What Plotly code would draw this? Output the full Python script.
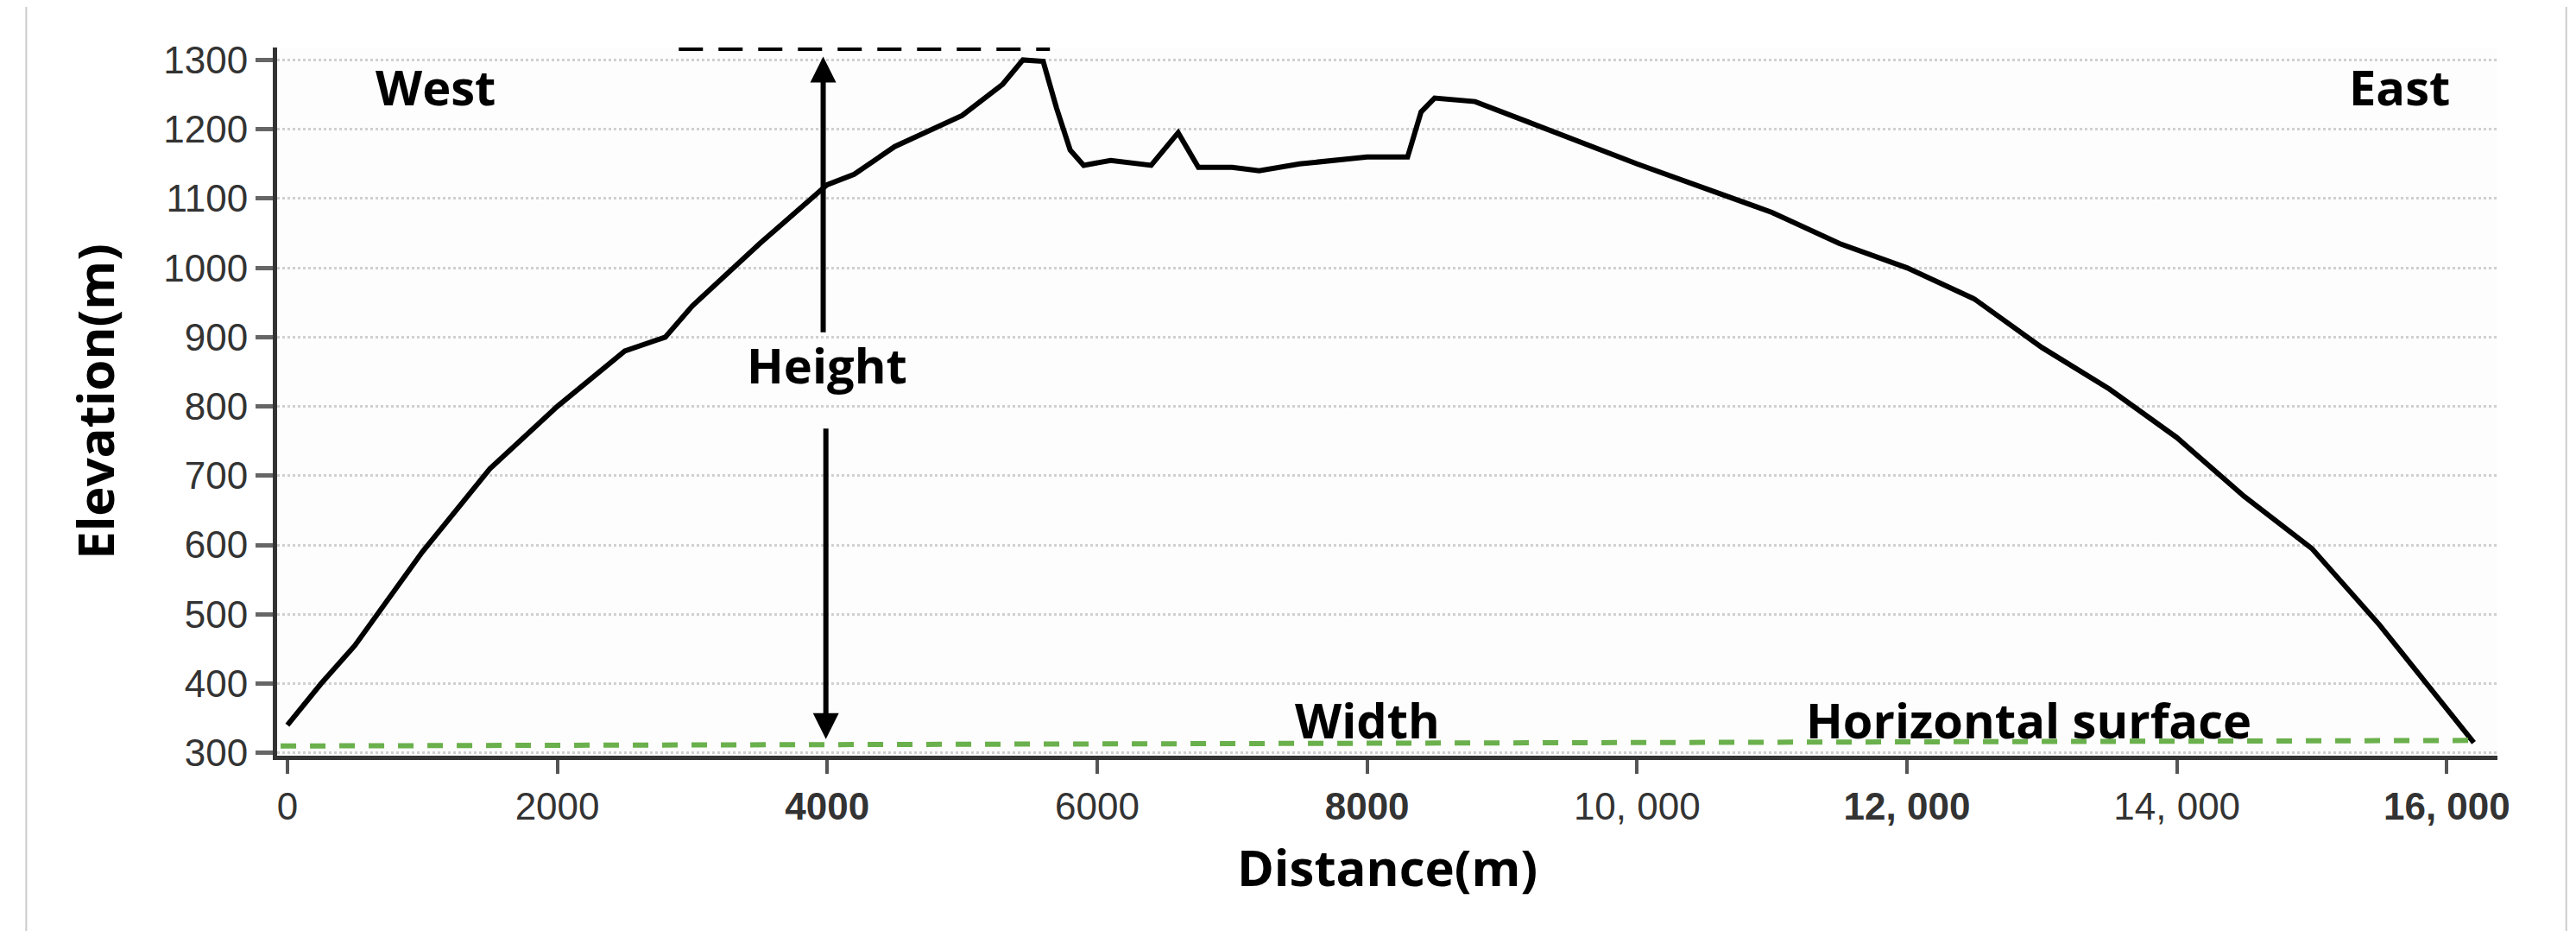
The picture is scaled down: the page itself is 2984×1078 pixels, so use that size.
import plotly.graph_objects as go

# elevation profile
distance = [0, 250, 500, 1000, 1500, 2000, 2500, 2800, 3000, 3500, 4000, 4200, 4500, 5000, 5300, 5450, 5600,
            5700, 5800, 5900, 6100, 6400, 6600, 6750, 7000, 7200, 7500, 8000, 8300, 8400, 8500, 8800,
            9200, 9600, 10000, 10500, 11000, 11500, 12000, 12500, 13000, 13500, 14000, 14500,
            15000, 15500, 16000, 16200]
elevation = [340, 400, 455, 590, 710, 800, 880, 900, 945, 1035, 1120, 1135, 1175, 1220, 1265, 1300, 1298,
             1230, 1170, 1148, 1155, 1148, 1195, 1145, 1145, 1140, 1150, 1160, 1160, 1225, 1245, 1240,
             1210, 1180, 1150, 1115, 1080, 1035, 1000, 955, 885, 825, 755, 670,
             595, 485, 365, 315]

surface_x = [-50, 16200]
surface_y = [310, 318]
top_x = [2900, 5650]
top_y = [1318, 1318]

tick_vals = [0, 2000, 4000, 6000, 8000, 10000, 12000, 14000, 16000]
tick_text = ["0", "2000", "<b>4000</b>", "6000", "<b>8000</b>", "10, 000", "<b>12, 000</b>",
             "14, 000", "<b>16, 000</b>"]

fig = go.Figure()
fig.add_trace(go.Scatter(x=distance, y=elevation, mode="lines", line=dict(color="black", width=6)))
fig.add_trace(go.Scatter(x=surface_x, y=surface_y, mode="lines",
                         line=dict(color="#6ab04c", width=6, dash="18px,16px")))
fig.add_trace(go.Scatter(x=top_x, y=top_y, mode="lines",
                         line=dict(color="black", width=8, dash="28px,18px"), cliponaxis=False))

# Height arrows
fig.add_annotation(x=3970, y=1305, ax=3970, ay=905, xref="x", yref="y", axref="x", ayref="y",
                   text="", showarrow=True, arrowhead=2, arrowsize=1, arrowwidth=6, arrowcolor="black")
fig.add_annotation(x=3990, y=320, ax=3990, ay=770, xref="x", yref="y", axref="x", ayref="y",
                   text="", showarrow=True, arrowhead=2, arrowsize=1, arrowwidth=6, arrowcolor="black")

labels = [(4000, 860, "Height"), (1100, 1262, "West"), (15650, 1262, "East"),
          (8000, 348, "Width"), (12900, 348, "Horizontal surface")]
for lx, ly, lt in labels:
    fig.add_annotation(x=lx, y=ly, text="<b>" + lt + "</b>", showarrow=False,
                       font=dict(size=56, color="black", family="Open Sans"))

fig.add_shape(type="rect", xref="paper", yref="paper", x0=-0.113, x1=1.031, y0=-0.252, y1=1.2,
              line=dict(color="#cccccc", width=2))

fig.update_layout(
    width=2984, height=1078, showlegend=False,
    margin=dict(l=313, r=99, t=47, b=211),
    paper_bgcolor="white", plot_bgcolor="#fdfdfd",
    font=dict(family="Liberation Sans", color="#222222"),
    xaxis=dict(range=[-76, 16375], tickvals=tick_vals, ticktext=tick_text,
               tickfont=dict(size=44, color="#333333"), ticks="outside", ticklen=16, tickwidth=4,
               tickcolor="#555555", showgrid=False, zeroline=False,
               showline=True, linecolor="#333333", linewidth=5,
               title=dict(text="<b>Distance(m)</b>", font=dict(size=58, color="black", family="Open Sans"),
                          standoff=30)),
    yaxis=dict(range=[296, 1318], tickvals=list(range(300, 1301, 100)),
               tickfont=dict(size=44, color="#333333"), ticks="outside", ticklen=20, tickwidth=5,
               tickcolor="#666666", showgrid=True, gridcolor="#d0d0d0", griddash="dot", gridwidth=3,
               zeroline=False, showline=True, linecolor="#333333", linewidth=5,
               title=dict(text="<b>Elevation(m)</b>", font=dict(size=58, color="black", family="Open Sans"),
                          standoff=40)),
)
fig.write_html("out.html")
